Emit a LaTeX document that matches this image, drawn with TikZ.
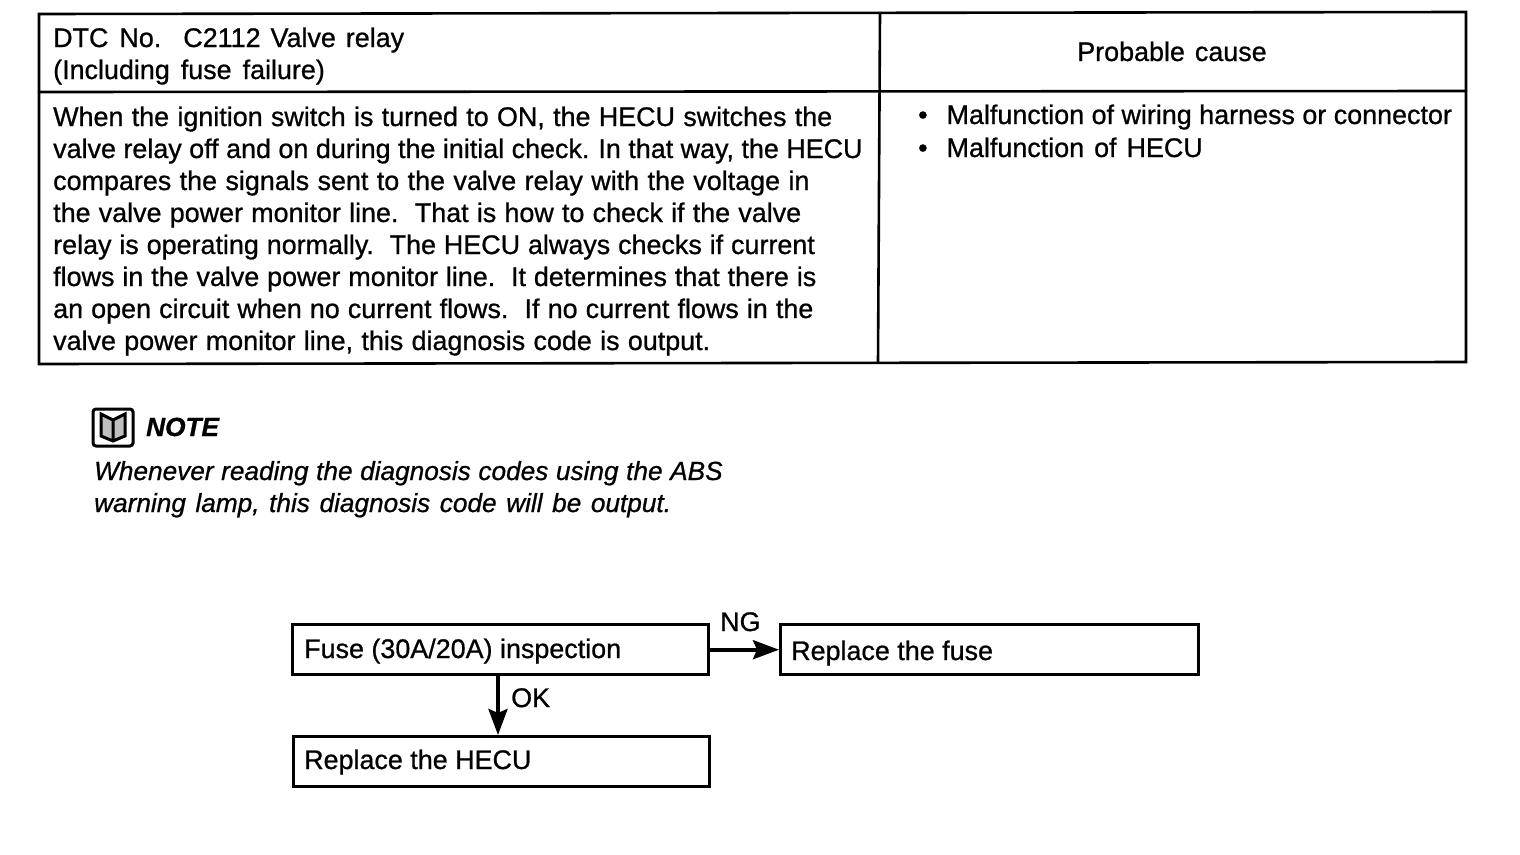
\documentclass[tikz,border=0pt]{standalone}
\usepackage{fontspec}
\setmainfont{Liberation Sans}[FakeBold=0.8]
\usetikzlibrary{arrows.meta}
\newcommand{\wsp}[1]{\spaceskip=#1pt\relax}
\tikzset{
 px/.style={x=1pt,y=-1pt},
 tx/.style={anchor=base west,inner sep=0pt,font=\fontsize{26.9}{30}\selectfont},
 ti/.style={anchor=base west,inner sep=0pt,font=\fontsize{26.2}{30}\selectfont\itshape},
 ln/.style={line width=2.6pt,line cap=round},
 fbox/.style={draw,line width=3.4pt,anchor=north west,minimum height=50pt,inner sep=0pt},
 ar/.style={line width=3.8pt,-{Stealth[length=26pt,width=19pt,inset=4pt]}},
}
\begin{document}
\begin{tikzpicture}[px]
\useasboundingbox (0,0) rectangle (1520,854);
\draw[ln] (39,14) -- (1466,12) -- (1466,362) -- (39,364) -- cycle;
\draw[ln] (39,92) -- (1466,91);
\draw[ln] (880,13) -- (878,362);
\node[tx] (t1) at (53,47) {DTC\hspace{11pt}No.\hspace{22pt}C2112\hspace{10pt}Valve\hspace{10pt}relay};
\node[tx] (t2) at (53,79) {(Including\hspace{11pt}fuse\hspace{11pt}failure)};
\node[tx,anchor=base] (pc) at (1172,61) {Probable\hspace{10pt}cause};
\node[tx] (b1) at (53,126) {\wsp{8.3}When the ignition switch is turned to ON, the HECU switches the};
\node[tx] (b2) at (53,158) {valve relay off and on during the initial check.\hspace{9pt}In that way, the HECU};
\node[tx] (b3) at (53,190) {\wsp{8.4}compares the signals sent to the valve relay with the voltage in};
\node[tx] (b4) at (53,222) {\wsp{8.2}the valve power monitor line.\ \ That is how to check if the valve};
\node[tx] (b5) at (53,254) {\wsp{7.9}relay is operating normally.\ \ The HECU always checks if current};
\node[tx] (b6) at (53,286) {\wsp{7.9}flows in the valve power monitor line.\ \ It determines that there is};
\node[tx] (b7) at (53,318) {\wsp{8.1}an open circuit when no current flows.\ \ If no current flows in the};
\node[tx] (b8) at (53,350) {\wsp{8.3}valve power monitor line, this diagnosis code is output.};
\node[tx] (c1) at (918,124) {•\hspace{19pt}Malfunction of wiring harness or connector};
\node[tx] (c2) at (918,157) {•\hspace{19pt}Malfunction\hspace{10pt}of\hspace{10pt}HECU};
\draw[line width=3pt,rounded corners=3pt] (93,409) rectangle (133,446);
\draw[line width=3pt,fill=black!25] (113,418) -- (113,441) (101,414) -- (101,436) -- (113,441) -- (125,436) -- (125,414) -- (113,420) -- cycle;
\node[ti] (nt) at (146,436) {\bfseries NOTE};
\node[ti] (n1) at (94,480) {\wsp{7.6}Whenever reading the diagnosis codes using the ABS};
\node[ti] (n2) at (94,512) {\wsp{9.6}warning lamp, this diagnosis code will be output.};
\node[fbox,minimum width=416pt] (fuse) at (291,623) {};
\node[fbox,minimum width=418pt] (rep) at (779,623) {};
\node[fbox,minimum width=416pt] (hecu) at (292,735) {};
\node[tx] at (304,658) {Fuse (30A/20A) inspection};
\node[tx] at (791,660) {Replace the fuse};
\node[tx] at (304,769) {Replace the HECU};
\draw[ar] (fuse.east) -- (rep.west);
\draw[ar] (fuse.south-|498,0) -- (hecu.north-|498,0);
\node[tx] at (720,631) {NG};
\node[tx] at (511,707) {OK};
\end{tikzpicture}
\end{document}
